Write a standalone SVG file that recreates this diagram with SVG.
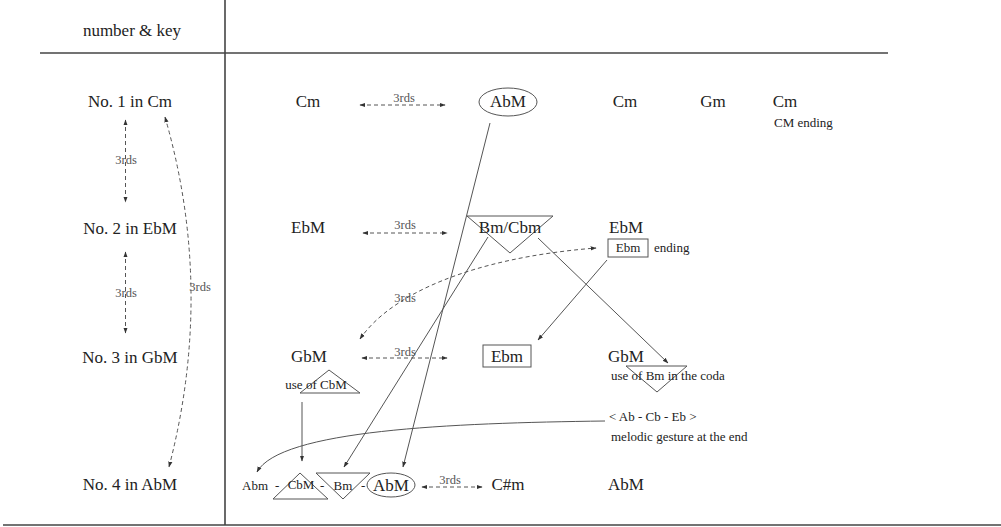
<svg xmlns="http://www.w3.org/2000/svg" width="1001" height="527" viewBox="0 0 1001 527">
  <style>
    text { font-family: "Liberation Serif", "Times New Roman", serif; fill: #222; }
    .big { font-size: 17px; }
    .sm { font-size: 13px; }
    .lbl { font-size: 12.5px; fill: #555; }
    .mid { text-anchor: middle; }
    .rule { stroke: #444; stroke-width: 1.6; fill: none; }
    .ln { stroke: #555; stroke-width: 1; fill: none; }
    .dash { stroke: #555; stroke-width: 1; fill: none; stroke-dasharray: 4 3; }
    .shape { stroke: #555; stroke-width: 1; fill: none; }
  </style>
  <defs>
    <marker id="ah" viewBox="0 0 10 10" refX="9" refY="5" markerWidth="6" markerHeight="6" markerUnits="userSpaceOnUse" orient="auto-start-reverse">
      <path d="M0,1.5 L10,5 L0,8.5 z" fill="#333"/>
    </marker>
  </defs>

  <rect width="1001" height="527" fill="#fff"/>

  <!-- table frame -->
  <g id="table">
    <line class="rule" x1="40" y1="53" x2="888" y2="53"/>
    <line class="rule" x1="225" y1="0" x2="225" y2="525"/>
    <line class="rule" x1="3" y1="525" x2="1001" y2="525"/>
    <text class="big mid" x="132" y="36">number &amp; key</text>
  </g>

  <!-- left column: pieces -->
  <g id="no1"><text class="big mid" x="130" y="107">No. 1 in Cm</text></g>
  <g id="no2"><text class="big mid" x="130" y="234">No. 2 in EbM</text></g>
  <g id="no3"><text class="big mid" x="130" y="363">No. 3 in GbM</text></g>
  <g id="no4"><text class="big mid" x="130" y="490">No. 4 in AbM</text></g>

  <!-- row 1 -->
  <g id="r1-cm"><text class="big mid" x="308" y="107">Cm</text></g>
  <g id="r1-abm">
    <ellipse class="shape" cx="508" cy="102" rx="29" ry="14"/>
    <text class="big mid" x="508" y="107">AbM</text>
  </g>
  <g id="r1-cm2"><text class="big mid" x="625" y="107">Cm</text></g>
  <g id="r1-gm"><text class="big mid" x="713" y="107">Gm</text></g>
  <g id="r1-cm3">
    <text class="big mid" x="785" y="107">Cm</text>
    <text class="sm" x="774" y="127">CM  ending</text>
  </g>

  <!-- row 2 -->
  <g id="r2-ebm"><text class="big mid" x="308" y="233">EbM</text></g>
  <g id="r2-bmcbm">
    <path class="shape" d="M467,216 L553,216 L510,253 Z"/>
    <text class="big mid" x="510" y="233">Bm/Cbm</text>
  </g>
  <g id="r2-ebm2"><text class="big mid" x="626" y="233">EbM</text></g>
  <g id="r2-ebm-ending">
    <rect class="shape" x="608" y="239" width="40" height="18"/>
    <text class="sm mid" x="628" y="252">Ebm</text>
    <text class="sm" x="654" y="252">ending</text>
  </g>

  <!-- row 3 -->
  <g id="r3-gbm"><text class="big mid" x="309" y="362">GbM</text></g>
  <g id="r3-cbm">
    <path class="shape" d="M329,370 L360,393 L300,393 Z"/>
    <text class="sm mid" x="316" y="389">use of CbM</text>
  </g>
  <g id="r3-ebm">
    <rect class="shape" x="483" y="345" width="48" height="22"/>
    <text class="big mid" x="507" y="362">Ebm</text>
  </g>
  <g id="r3-gbm2"><text class="big mid" x="626" y="362">GbM</text></g>
  <g id="r3-bm-coda">
    <path class="shape" d="M626,366 L687,366 L657,392 Z"/>
    <text class="sm" x="611" y="380">use of Bm in the coda</text>
  </g>
  <g id="gesture">
    <text class="sm" x="609" y="421">&lt; Ab - Cb - Eb &gt;</text>
    <text class="sm" x="611" y="441">melodic gesture at the end</text>
  </g>

  <!-- row 4 -->
  <g id="r4-seq">
    <text class="sm" x="242" y="490">Abm</text>
    <text class="sm" x="275" y="490">-</text>
    <path class="shape" d="M300,473 L328,499 L273,499 Z"/>
    <text class="sm mid" x="301" y="489">CbM</text>
    <text class="sm" x="320" y="490">-</text>
    <path class="shape" d="M316,473 L370,473 L343,499 Z"/>
    <text class="sm mid" x="343" y="490">Bm</text>
    <text class="sm" x="361" y="490">-</text>
  </g>
  <g id="r4-abm">
    <ellipse class="shape" cx="391" cy="485" rx="24" ry="12"/>
    <text class="big mid" x="391" y="491">AbM</text>
  </g>
  <g id="r4-csm"><text class="big mid" x="508" y="490">C#m</text></g>
  <g id="r4-abm2"><text class="big mid" x="626" y="490">AbM</text></g>

  <!-- connectors -->
  <g id="connectors">
    <!-- left column thirds -->
    <line class="dash" x1="125.5" y1="120" x2="125.5" y2="202" marker-start="url(#ah)" marker-end="url(#ah)"/>
    <text class="lbl mid" x="126" y="164">3rds</text>
    <line class="dash" x1="125.5" y1="252" x2="125.5" y2="333" marker-start="url(#ah)" marker-end="url(#ah)"/>
    <text class="lbl mid" x="126" y="297">3rds</text>
    <path class="dash" d="M165,117 Q215,290 169,467" marker-start="url(#ah)" marker-end="url(#ah)"/>
    <text class="lbl mid" x="200" y="291">3rds</text>

    <!-- horizontal thirds -->
    <line class="dash" x1="360" y1="105" x2="445" y2="105" marker-start="url(#ah)" marker-end="url(#ah)"/>
    <text class="lbl mid" x="404" y="102">3rds</text>
    <line class="dash" x1="363" y1="233" x2="447" y2="233" marker-start="url(#ah)" marker-end="url(#ah)"/>
    <text class="lbl mid" x="405" y="229">3rds</text>
    <line class="dash" x1="362" y1="358" x2="447" y2="358" marker-start="url(#ah)" marker-end="url(#ah)"/>
    <text class="lbl mid" x="405" y="356">3rds</text>
    <line class="dash" x1="422" y1="487" x2="482" y2="487" marker-start="url(#ah)" marker-end="url(#ah)"/>
    <text class="lbl mid" x="450" y="484">3rds</text>

    <!-- curved thirds from Ebm ending to GbM -->
    <path class="dash" d="M360,339 C390,295 470,258 596,248" marker-start="url(#ah)" marker-end="url(#ah)"/>
    <text class="lbl mid" x="405" y="302">3rds</text>

    <!-- solid arrows -->
    <line class="ln" x1="490" y1="123" x2="403" y2="467" marker-end="url(#ah)"/>
    <line class="ln" x1="488" y1="237" x2="344" y2="467" marker-end="url(#ah)"/>
    <line class="ln" x1="538" y1="238" x2="668" y2="363" marker-end="url(#ah)"/>
    <line class="ln" x1="607" y1="260" x2="538" y2="340" marker-end="url(#ah)"/>
    <line class="ln" x1="302" y1="402" x2="302" y2="461" marker-end="url(#ah)"/>
    <path class="ln" d="M605,421 C450,423 280,430 257,472" marker-end="url(#ah)"/>
  </g>
</svg>
